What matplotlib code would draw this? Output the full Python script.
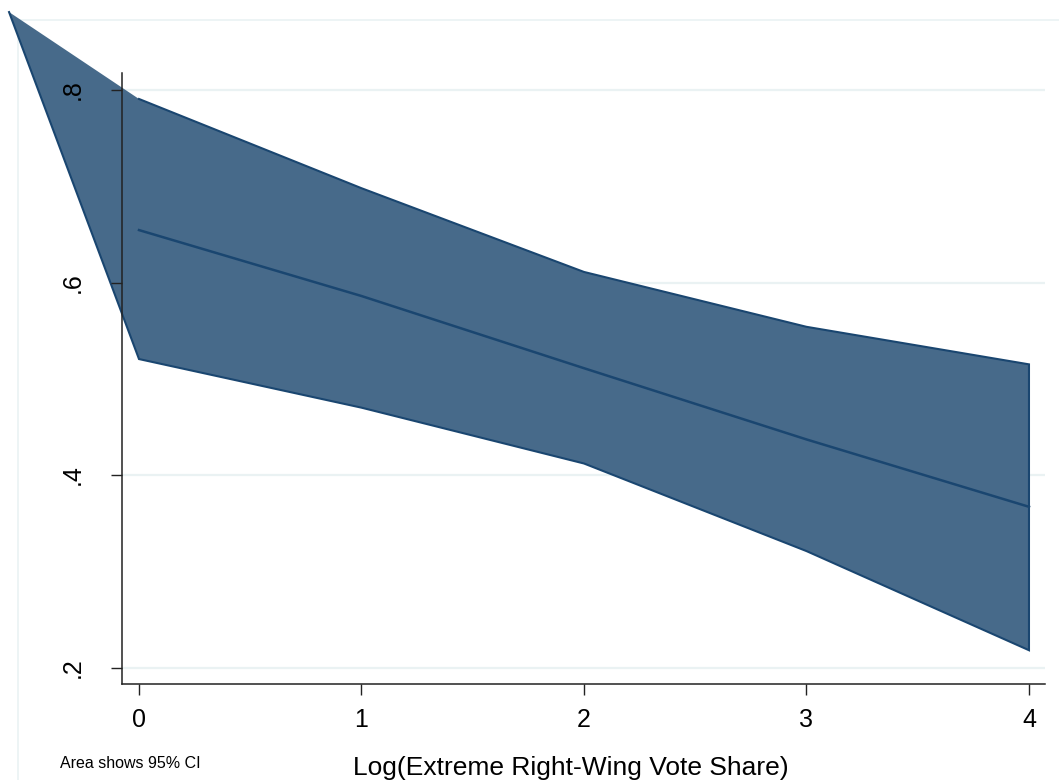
import matplotlib
matplotlib.use("Agg")
import matplotlib.pyplot as plt
from matplotlib.lines import Line2D
import numpy as np

plt.rcParams['font.family'] = ['Liberation Sans', 'DejaVu Sans']

# predicted values with 95% CI
log_vote = [0, 1, 2, 3, 4]
pred = [0.6545, 0.586, 0.511, 0.437, 0.367]
ci_upper = [0.7907, 0.698, 0.611, 0.554, 0.515]
ci_lower = [0.5205, 0.470, 0.412, 0.321, 0.218]
# stray vertex of the area polygon, off to the top left
stray_pt = (-0.584, 0.881)

yticks = [0.2, 0.4, 0.6, 0.8]
ytick_labels = ['.2', '.4', '.6', '.8']

fill_col = '#476a8a'
edge_col = '#1a4670'
grid_col = '#eaf2f3'

fig = plt.figure(figsize=(10.59, 7.8), dpi=100)
ax = fig.add_axes([122 / 1059, 1 - 684 / 780, 923 / 1059, 611 / 780])
ax.patch.set_alpha(0)

# faint outer region frame, kept behind the axes
fig.add_artist(Line2D([18 / 1059, 1], [1 - 20 / 780, 1 - 20 / 780],
                      transform=fig.transFigure, color=grid_col, lw=1.2,
                      zorder=-1))
fig.add_artist(Line2D([18 / 1059, 18 / 1059], [0, 1 - 20 / 780],
                      transform=fig.transFigure, color=grid_col, lw=1.2,
                      zorder=-1))

for y in yticks:
    ax.axhline(y, color=grid_col, lw=1.6, zorder=0.5)

# area sits below the axis (zorder 1.5) so tick labels stay on top
poly_x = [stray_pt[0]] + log_vote + log_vote[::-1]
poly_y = [stray_pt[1]] + ci_upper + ci_lower[::-1]
ax.fill(poly_x, poly_y, color=fill_col, lw=0, clip_on=False, zorder=1.1)

# area outline
out_x = log_vote + log_vote[::-1] + [stray_pt[0]]
out_y = ci_upper + ci_lower[::-1] + [stray_pt[1]]
ax.plot(out_x, out_y, color=edge_col, lw=1.5, clip_on=False, zorder=1.2,
        solid_joinstyle='miter')

ax.plot(log_vote, pred, color=edge_col, lw=1.8, zorder=1.3)

ax.set_xlim(-0.0764, 4.072)
ax.set_ylim(0.1829, 0.8177)

ax.set_xticks(log_vote)
ax.set_xticklabels([str(v) for v in log_vote])
ax.set_yticks(yticks)
ax.set_yticklabels(ytick_labels, rotation=90, va='center')

for s in ['top', 'right']:
    ax.spines[s].set_visible(False)
for s in ['left', 'bottom']:
    ax.spines[s].set_linewidth(1.1)
    ax.spines[s].set_color('#222222')
    ax.spines[s].set_zorder(5)

ax.tick_params(axis='x', length=8, width=1.0, color='#222222', pad=9,
               labelsize=18)
ax.tick_params(axis='y', length=8, width=1.0, color='#222222', pad=19,
               labelsize=18)

fig.text(571 / 1059, 1 - 775 / 780, 'Log(Extreme Right-Wing Vote Share)',
         ha='center', va='baseline', fontsize=19)
fig.text(60 / 1059, 1 - 768 / 780, 'Area shows 95% CI',
         ha='left', va='baseline', fontsize=11.5)

fig.savefig('out.png', dpi=100, facecolor='white')
